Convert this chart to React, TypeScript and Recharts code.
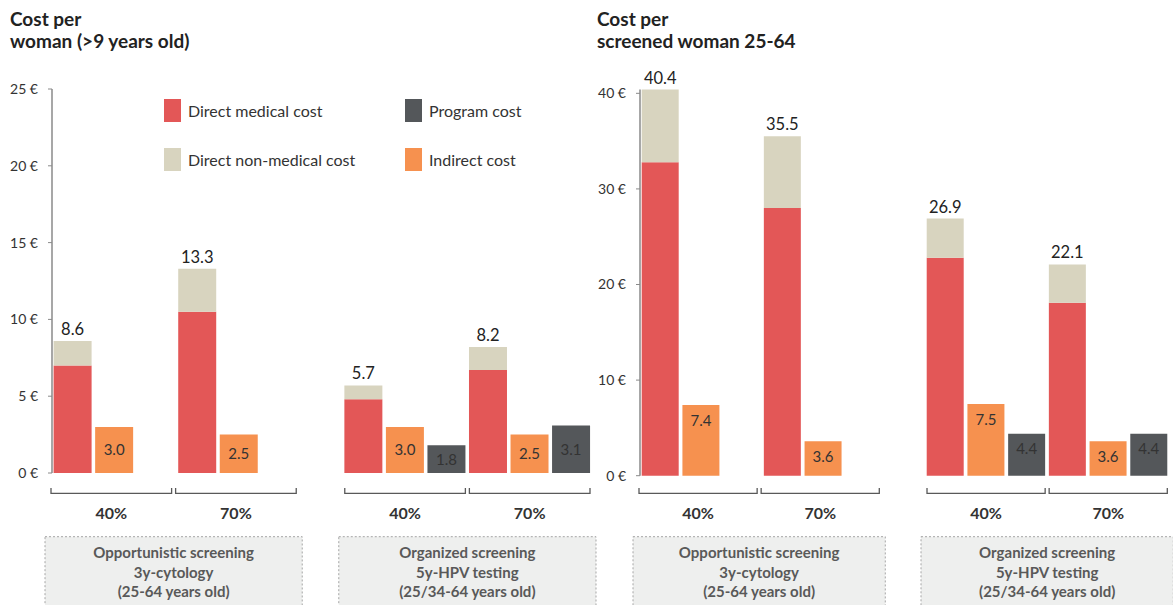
import { Bar, BarChart, LabelList, Legend, XAxis, YAxis } from "recharts";

const scenarios = ["opp-40", "opp-70", "org-40", "org-70"];
const coverageLabels = ["40%", "70%", "40%", "70%"];
const strategyLabels = [
  ["Opportunistic screening", "3y-cytology", "(25-64 years old)"],
  ["Organized screening", "5y-HPV testing", "(25/34-64 years old)"],
];

// cost per woman (>9 years old), €
const womanMedical = [7.0, 10.5, 4.8, 6.7];
const womanNonMedical = [1.6, 2.8, 0.9, 1.5];
const womanIndirect = [3.0, 2.5, 3.0, 2.5];
const womanProgram = [null, null, 1.8, 3.1];
const womanTicks = [0, 5, 10, 15, 20, 25];

// cost per screened woman 25-64, €
const screenedMedical = [32.8, 28.0, 22.8, 18.1];
const screenedNonMedical = [7.6, 7.5, 4.1, 4.0];
const screenedIndirect = [7.4, 3.6, 7.5, 3.6];
const screenedProgram = [null, null, 4.4, 4.4];
const screenedTicks = [0, 10, 20, 30, 40];

const series = [
  { key: "medical", name: "Direct medical cost", color: "#E35757" },
  { key: "nonMedical", name: "Direct non-medical cost", color: "#D8D4BF" },
  { key: "program", name: "Program cost", color: "#54575A" },
  { key: "indirect", name: "Indirect cost", color: "#F6914F" },
];
const colorOf = (key: string) => series.find((s) => s.key === key)!.color;

type Row = {
  key: string;
  role: "direct" | "indirect" | "program" | "gap";
  scenario: number;
  medical?: number;
  nonMedical?: number;
  total?: number;
  indirect?: number;
  program?: number | null;
};

function buildRows(medical: number[], nonMedical: number[], indirect: number[], program: (number | null)[]) {
  const rows: Row[] = [];
  scenarios.forEach((s, i) => {
    if (i === 2) rows.push({ key: "gap", role: "gap", scenario: -1 });
    rows.push({
      key: `${s}-direct`,
      role: "direct",
      scenario: i,
      medical: medical[i],
      nonMedical: nonMedical[i],
      total: Math.round((medical[i] + nonMedical[i]) * 10) / 10,
    });
    rows.push({ key: `${s}-indirect`, role: "indirect", scenario: i, indirect: indirect[i] });
    rows.push({ key: `${s}-program`, role: "program", scenario: i, program: program[i] });
  });
  return rows;
}

const womanRows = buildRows(womanMedical, womanNonMedical, womanIndirect, womanProgram);
const screenedRows = buildRows(screenedMedical, screenedNonMedical, screenedIndirect, screenedProgram);

const fmt = (v: any) => (v == null || v === "" ? "" : Number(v).toFixed(1));

function makeXTick(rows: Row[], slot: number) {
  return function XTick(props: any) {
    const { x, payload } = props;
    const idx = payload?.index ?? props.index;
    const row = rows[idx];
    if (!row) return <g />;
    const parts: any[] = [];
    // opportunistic group sits a few px left in the original
    const shift = row.scenario < 2 ? -3 : 0;
    if (row.role === "indirect") {
      const x1 = x - 1.5 * slot + 2 + shift;
      const x2 = x + 1.5 * slot - 2 + shift;
      parts.push(
        <path
          key="br"
          d={`M${x1},488 L${x1},493.3 L${x2},493.3 L${x2},488`}
          fill="none"
          stroke="#595959"
          strokeWidth={1.3}
        />,
        <text key="cov" x={x + shift} y={518.5} textAnchor="middle" fontSize={16} fontWeight={700} fill="#333">
          {coverageLabels[row.scenario]}
        </text>
      );
    }
    if (row.role === "direct" && (row.scenario === 0 || row.scenario === 2)) {
      const start = x - slot / 2 + shift;
      const cx = start + 3 * slot;
      const lines = strategyLabels[row.scenario === 0 ? 0 : 1];
      parts.push(
        <rect
          key="box"
          x={start - 4}
          y={536.7}
          width={6 * slot + 8}
          height={80}
          fill="#EEEFEE"
          stroke="#A6A6A6"
          strokeDasharray="2 2"
        />,
        ...lines.map((t, k) => (
          <text key={`l${k}`} x={cx} y={558 + k * 19.5} textAnchor="middle" fontSize={15} fontWeight={700} fill="#595959">
            {t}
          </text>
        ))
      );
    }
    return <g>{parts}</g>;
  };
}

function LegendBox() {
  return (
    <div
      style={{
        display: "grid",
        gridAutoFlow: "column",
        gridTemplateRows: "23px 23px",
        gridTemplateColumns: "241px 160px",
        rowGap: 26,
        fontSize: 16,
        color: "#333",
      }}
    >
      {series.map((s) => (
        <div key={s.key} style={{ display: "flex", alignItems: "center", gap: 7 }}>
          <span style={{ width: 17, height: 23, background: s.color, display: "inline-block" }} />
          <span>{s.name}</span>
        </div>
      ))}
    </div>
  );
}

type PanelProps = {
  rows: Row[];
  left: number;
  width: number;
  yWidth: number;
  top: number;
  right: number;
  plotBottom: number;
  domain: [number, number];
  ticks: number[];
  innerLabel: "center" | "insideTop";
  gap: number;
  legend?: boolean;
};

function Panel({ rows, left, width, yWidth, top, right, plotBottom, domain, ticks, innerLabel, gap, legend }: PanelProps) {
  const height = 605;
  const slot = (width - yWidth - right) / rows.length;
  const inner = { position: innerLabel, offset: innerLabel === "insideTop" ? 10 : 0, fontSize: 15, fill: "#333", formatter: fmt };
  return (
    <div style={{ position: "absolute", left, top: 0 }}>
      <BarChart width={width} height={height} data={rows} margin={{ top, right, bottom: 0, left: 0 }} barCategoryGap={gap}>
        <XAxis
          dataKey="key"
          height={height - plotBottom}
          axisLine={false}
          tickLine={false}
          interval={0}
          tick={makeXTick(rows, slot)}
        />
        <YAxis
          domain={domain}
          ticks={ticks}
          interval={0}
          width={yWidth}
          tickFormatter={(v) => `${v} €`}
          axisLine={{ stroke: "#8a8a8a", strokeWidth: 1.5 }}
          tickLine={{ stroke: "#8a8a8a" }}
          tickSize={4}
          tickMargin={10}
          tick={{ fontSize: 14, fill: "#333" }}
        />
        {legend && (
          <Legend
            layout="vertical"
            verticalAlign="middle"
            align="center"
            wrapperStyle={{ top: 99, left: 164, width: 420 }}
            content={() => <LegendBox />}
          />
        )}
        <Bar dataKey="medical" name="Direct medical cost" stackId="a" fill={colorOf("medical")} isAnimationActive={false} />
        <Bar dataKey="nonMedical" name="Direct non-medical cost" stackId="a" fill={colorOf("nonMedical")} isAnimationActive={false}>
          <LabelList dataKey="total" position="top" offset={6} fontSize={16.5} fill="#222" formatter={fmt} />
        </Bar>
        <Bar dataKey="indirect" name="Indirect cost" stackId="a" fill={colorOf("indirect")} isAnimationActive={false}>
          <LabelList dataKey="indirect" {...(inner as any)} />
        </Bar>
        <Bar dataKey="program" name="Program cost" stackId="a" fill={colorOf("program")} isAnimationActive={false}>
          <LabelList dataKey="program" {...(inner as any)} />
        </Bar>
      </BarChart>
    </div>
  );
}

const titleStyle = {
  position: "absolute" as const,
  top: 8,
  fontSize: 19,
  fontWeight: 700,
  lineHeight: "22px",
  color: "#222",
};

export default function App() {
  return (
    <div
      style={{
        position: "absolute",
        left: 0,
        top: 0,
        width: 1173,
        height: 605,
        background: "#fff",
        fontFamily: "Lato, sans-serif",
        overflow: "hidden",
      }}
    >
      <Panel
        rows={womanRows}
        left={0}
        width={600}
        yWidth={52}
        top={89}
        right={8}
        plotBottom={473}
        domain={[0, 25]}
        ticks={womanTicks}
        innerLabel="center"
        gap={1.6}
        legend
      />
      <Panel
        rows={screenedRows}
        left={588}
        width={585}
        yWidth={52}
        top={89.5}
        right={3.7}
        plotBottom={475.7}
        domain={[0, 40]}
        ticks={screenedTicks}
        innerLabel="insideTop"
        gap={1.7}
      />
      <div style={{ ...titleStyle, left: 10 }}>
        Cost per
        <br />
        woman (&gt;9 years old)
      </div>
      <div style={{ ...titleStyle, left: 597 }}>
        Cost per
        <br />
        screened woman 25-64
      </div>
    </div>
  );
}
